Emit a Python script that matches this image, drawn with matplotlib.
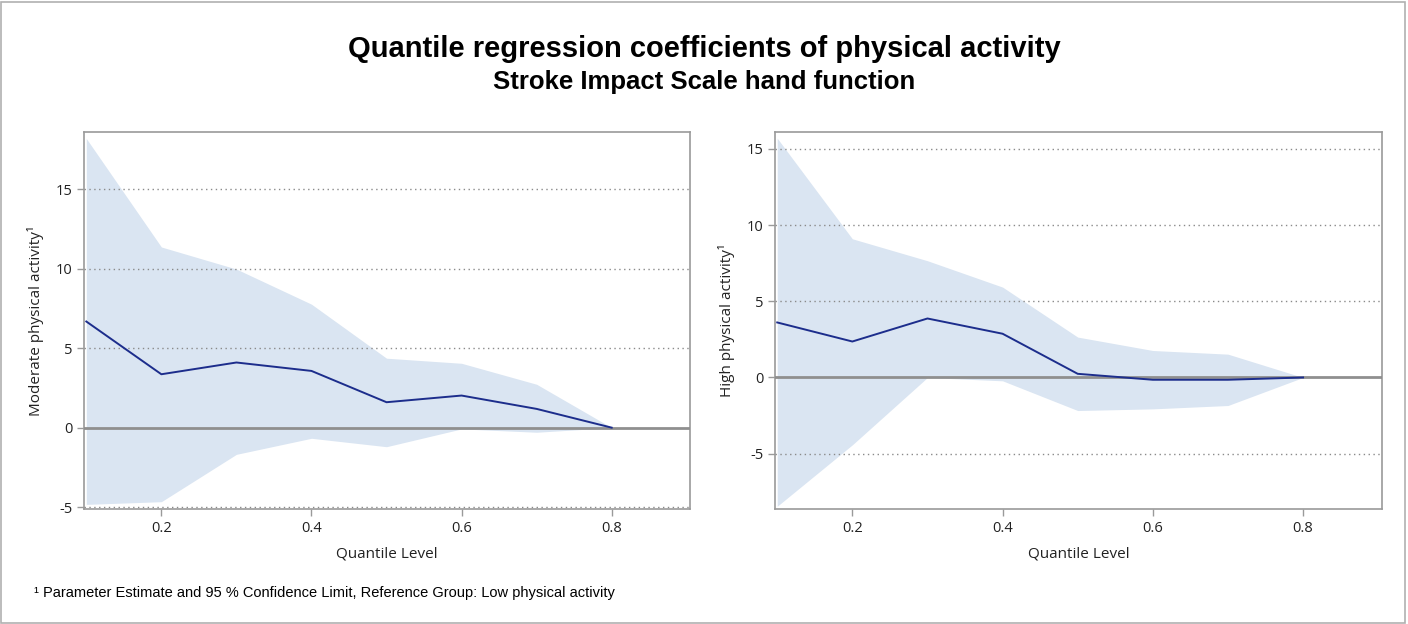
import numpy as np
import matplotlib
matplotlib.use("Agg")
import matplotlib.pyplot as plt
from matplotlib.patches import Rectangle

# quantile levels
quantiles = [0.1, 0.2, 0.3, 0.4, 0.5, 0.6, 0.7, 0.8]

# moderate vs low physical activity
mod_est = [6.68, 3.36, 4.10, 3.57, 1.60, 2.02, 1.18, 0.0]
mod_upper = [18.2, 11.37, 9.98, 7.77, 4.37, 4.05, 2.73, 0.0]
mod_lower = [-4.83, -4.66, -1.68, -0.67, -1.20, -0.08, -0.29, 0.0]

# high vs low physical activity
high_est = [3.61, 2.36, 3.87, 2.87, 0.24, -0.15, -0.15, 0.0]
high_upper = [15.7, 9.1, 7.66, 5.93, 2.65, 1.77, 1.53, 0.0]
high_lower = [-8.45, -4.42, 0.0, -0.22, -2.17, -2.06, -1.84, 0.0]

xticks = [0.2, 0.4, 0.6, 0.8]

fill_col = "#dae5f2"
line_col = "#1c2d8c"
frame_col = "#9a9a9a"

fig = plt.figure(figsize=(14.08, 6.24), dpi=100)
fig.patches.append(Rectangle((0.001, 0.002), 0.997, 0.995, transform=fig.transFigure,
                             fill=False, edgecolor="#b0b0b0", linewidth=1.2))

fig.text(0.5, 0.922, "Quantile regression coefficients of physical activity",
         ha="center", va="center", fontsize=21, fontweight="bold", family="Liberation Sans")
fig.text(0.5, 0.868, "Stroke Impact Scale hand function",
         ha="center", va="center", fontsize=18.5, fontweight="bold", family="Liberation Sans")

ax1 = fig.add_axes([0.0597, 0.1843, 0.4307, 0.604])
ax2 = fig.add_axes([0.5504, 0.1843, 0.4311, 0.604])

panels = [
    (ax1, mod_est, mod_upper, mod_lower, "Moderate physical activity\u00b9", (-5.12, 18.6), [-5, 0, 5, 10, 15]),
    (ax2, high_est, high_upper, high_lower, "High physical activity\u00b9", (-8.63, 16.1), [-5, 0, 5, 10, 15]),
]

for ax, est, up, lo, ylab, ylim, yt in panels:
    ax.fill_between(quantiles, lo, up, color=fill_col, linewidth=0, zorder=1)
    for v in yt:
        if v != 0:
            ax.axhline(v, color="#8a8a8a", linestyle=(0, (1, 2.5)), linewidth=1.0, zorder=2)
    ax.axhline(0, color="#8f8f8f", linewidth=2.0, zorder=3)
    ax.plot(quantiles, est, color=line_col, linewidth=1.4, zorder=4)
    ax.set_xlim(0.097, 0.905)
    ax.set_ylim(*ylim)
    ax.set_xticks(xticks)
    ax.set_xticklabels([str(t) for t in xticks])
    ax.set_yticks(yt)
    ax.set_yticklabels([str(t) for t in yt])
    for s in ax.spines.values():
        s.set_color(frame_col)
        s.set_linewidth(1.2)
    ax.tick_params(colors=frame_col, labelcolor="#222222", labelsize=10.5, length=5, width=1)
    for lab in ax.get_xticklabels() + ax.get_yticklabels():
        lab.set_family("Open Sans")
    ax.set_xlabel("Quantile Level", fontsize=11, family="Open Sans", color="#222222", labelpad=8)
    ax.set_ylabel(ylab, fontsize=11, family="Open Sans", color="#222222", labelpad=8)

fig.text(0.024, 0.049, "\u00b9 Parameter Estimate and 95 % Confidence Limit, Reference Group: Low physical activity",
         ha="left", va="center", fontsize=10.5, family="Liberation Sans")

fig.savefig("out.png", dpi=100)
